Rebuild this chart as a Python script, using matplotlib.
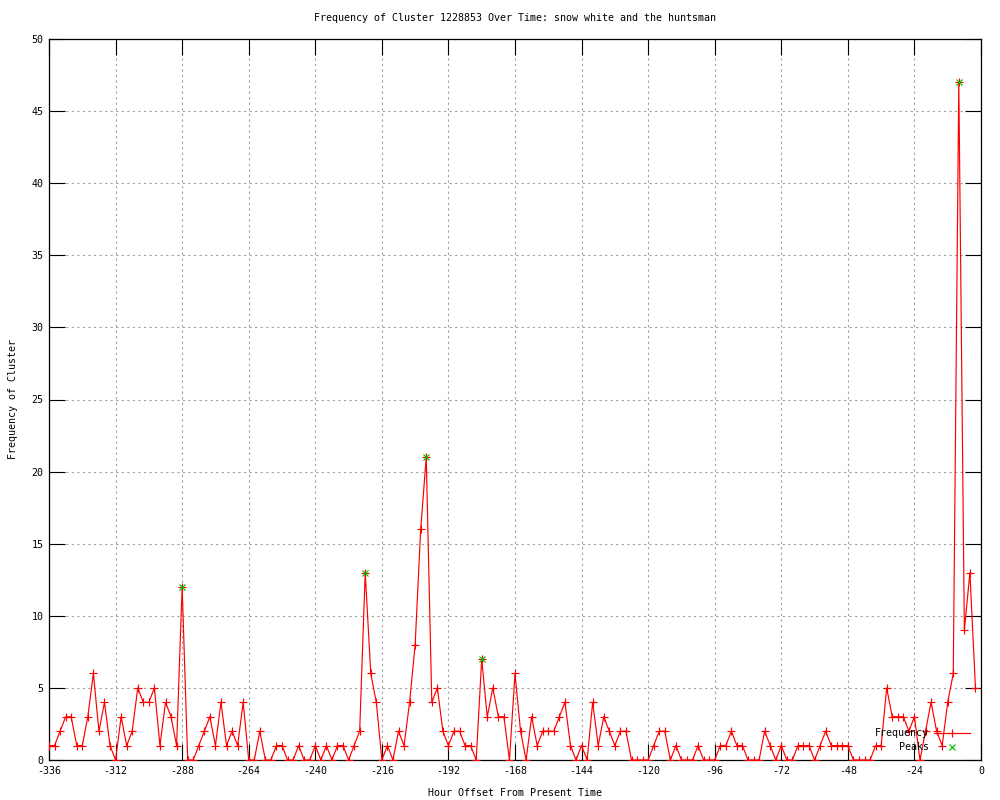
import matplotlib
matplotlib.use("Agg")
import matplotlib.pyplot as plt

hours = [-336, -334, -332, -330, -328, -326, -324, -322, -320, -318,
         -316, -314, -312, -310, -308, -306, -304, -302, -300, -298,
         -296, -294, -292, -290, -288, -286, -284, -282, -280, -278,
         -276, -274, -272, -270, -268, -266, -264, -262, -260, -258,
         -256, -254, -252, -250, -248, -246, -244, -242, -240, -238,
         -236, -234, -232, -230, -228, -226, -224, -222, -220, -218,
         -216, -214, -212, -210, -208, -206, -204, -202, -200, -198,
         -196, -194, -192, -190, -188, -186, -184, -182, -180, -178,
         -176, -174, -172, -170, -168, -166, -164, -162, -160, -158,
         -156, -154, -152, -150, -148, -146, -144, -142, -140, -138,
         -136, -134, -132, -130, -128, -126, -124, -122, -120, -118,
         -116, -114, -112, -110, -108, -106, -104, -102, -100, -98,
         -96, -94, -92, -90, -88, -86, -84, -82, -80, -78,
         -76, -74, -72, -70, -68, -66, -64, -62, -60, -58,
         -56, -54, -52, -50, -48, -46, -44, -42, -40, -38,
         -36, -34, -32, -30, -28, -26, -24, -22, -20, -18,
         -16, -14, -12, -10, -8, -6, -4, -2]

frequency = [1, 1, 2, 3, 3, 1, 1, 3, 6, 2,
             4, 1, 0, 3, 1, 2, 5, 4, 4, 5,
             1, 4, 3, 1, 12, 0, 0, 1, 2, 3,
             1, 4, 1, 2, 1, 4, 0, 0, 2, 0,
             0, 1, 1, 0, 0, 1, 0, 0, 1, 0,
             1, 0, 1, 1, 0, 1, 2, 13, 6, 4,
             0, 1, 0, 2, 1, 4, 8, 16, 21, 4,
             5, 2, 1, 2, 2, 1, 1, 0, 7, 3,
             5, 3, 3, 0, 6, 2, 0, 3, 1, 2,
             2, 2, 3, 4, 1, 0, 1, 0, 4, 1,
             3, 2, 1, 2, 2, 0, 0, 0, 0, 1,
             2, 2, 0, 1, 0, 0, 0, 1, 0, 0,
             0, 1, 1, 2, 1, 1, 0, 0, 0, 2,
             1, 0, 1, 0, 0, 1, 1, 1, 0, 1,
             2, 1, 1, 1, 1, 0, 0, 0, 0, 1,
             1, 5, 3, 3, 3, 2, 3, 0, 2, 4,
             2, 1, 4, 6, 47, 9, 13, 5]

peak_hours = [-288, -222, -200, -180, -8]
peak_values = [12, 13, 21, 7, 47]

x_ticks = [-336, -312, -288, -264, -240, -216, -192, -168, -144, -120,
           -96, -72, -48, -24, 0]
y_ticks = [0, 5, 10, 15, 20, 25, 30, 35, 40, 45, 50]

title = "Frequency of Cluster 1228853 Over Time: snow white and the huntsman"

plt.rcParams['font.family'] = ['DejaVu Sans Mono']
plt.rcParams['axes.unicode_minus'] = False
FS = 7.2

fig = plt.figure(figsize=(10, 8), dpi=100)
W, H = 1000, 800
left, right, top, bottom = 49, 981, 39, 760
ax = fig.add_axes([left / W, 1 - bottom / H, (right - left) / W, (bottom - top) / H])

ax.plot(hours, frequency, color='#ff0000', lw=0.85, marker='+', ms=6, mew=0.85,
        label='Frequency', zorder=3)
ax.plot(peak_hours, peak_values, color='#00c000', lw=0, marker='x', ms=5, mew=0.85,
        label='Peaks', zorder=4)

ax.set_xlim(-336, 0)
ax.set_ylim(0, 50)
ax.set_xticks(x_ticks)
ax.set_yticks(y_ticks)
ax.tick_params(direction='in', length=11.5, width=0.8, top=True, right=True,
               labelsize=FS, pad=4, colors='black')
ax.grid(True, color='#a0a0a0', linestyle=(0, (2, 3)), linewidth=0.8, zorder=0)
ax.set_axisbelow(True)
for s in ax.spines.values():
    s.set_linewidth(0.9)

ax.set_title(title, fontsize=FS, y=1 + 21 / 721, va='center', pad=0)
ax.set_xlabel("Hour Offset From Present Time", fontsize=FS, va='center')
ax.xaxis.set_label_coords(0.5, (760 - 793) / 721)
ax.set_ylabel("Frequency of Cluster", fontsize=FS, va='center')
ax.yaxis.set_label_coords((13 - 49) / 932, 0.5)

leg = ax.legend(loc='lower right', bbox_to_anchor=(970 / W, 1 - 752 / H),
                bbox_transform=fig.transFigure, frameon=False, markerfirst=False,
                fontsize=FS, handlelength=3.6, handletextpad=0.5, labelspacing=0.35,
                borderpad=0, borderaxespad=0)

fig.savefig("out.png", dpi=100)
